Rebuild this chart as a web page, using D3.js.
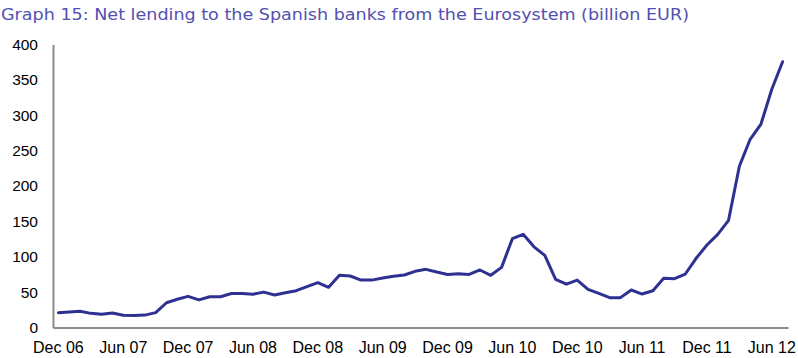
<!DOCTYPE html>
<html>
<head>
<meta charset="utf-8">
<script src="https://cdn.jsdelivr.net/npm/d3@7"></script>
<style>
  html, body { margin: 0; padding: 0; background: #fff; }
  svg { display: block; }
</style>
</head>
<body>
<svg id="chart" width="798" height="358"></svg>
<script>
const title = "Graph 15: Net lending to the Spanish banks from the Eurosystem (billion EUR)";

// Monthly observations, Dec 06 .. Jul 12
const startYear = 2006, startMonth = 11; // December 2006 (0-based month)
const values = [
  21, 22, 23, 20, 18.6, 20.5, 17.2, 17, 17.5, 21, 35, 40,
  44, 39, 43.5, 43.5, 48, 48, 47, 50, 46, 49, 52, 57.7,
  63.3, 56.8, 74, 72.8, 67, 67, 70, 72.5, 74.2, 79.4, 82.2, 78.4,
  75, 76, 75, 81.3, 73.8, 85, 125.5, 131.7, 114, 102, 68, 61.3,
  67, 54, 48.3, 42.2, 42.2, 53, 47.3, 52, 69.5, 69, 75.6, 97.8,
  116.6, 131.7, 151.5, 228, 266, 287.6, 336.7, 375.7
];
const yTicks = [0, 50, 100, 150, 200, 250, 300, 350, 400];
const xTickLabels = ["Dec 06","Jun 07","Dec 07","Jun 08","Dec 08","Jun 09",
                     "Dec 09","Jun 10","Dec 10","Jun 11","Dec 11","Jun 12"];

const monNames = ["Jan","Feb","Mar","Apr","May","Jun","Jul","Aug","Sep","Oct","Nov","Dec"];
const categories = values.map((v, i) => {
  const m = (startMonth + i) % 12;
  const yr = startYear + Math.floor((startMonth + i) / 12);
  return monNames[m] + " " + String(yr % 100).padStart(2, "0");
});

const svg = d3.select("#chart");
const pLeft = 53, pRight = 788, pTop = 44.5, pBottom = 327.5;

const x = d3.scaleBand().domain(categories).range([pLeft, pRight]).paddingInner(0).paddingOuter(0);
const y = d3.scaleLinear().domain([0, 400]).range([pBottom, pTop]);
const cx = c => x(c) + x.bandwidth() / 2;

// Title
svg.append("text")
  .attr("x", 1).attr("y", 20)
  .attr("font-family", "'DejaVu Sans', sans-serif")
  .attr("font-size", 15)
  .attr("fill", "#5250b0")
  .attr("textLength", 688)
  .attr("lengthAdjust", "spacingAndGlyphs")
  .text(title);

// Y axis
const yAxis = d3.axisLeft(y).tickValues(yTicks).tickSize(0).tickPadding(15);
const gy = svg.append("g").attr("transform", `translate(${pLeft},0)`).call(yAxis);
gy.select(".domain").attr("stroke", "#8c8c8c").attr("stroke-width", 2);
gy.selectAll("text")
  .attr("font-family", "'Liberation Sans', Arial, sans-serif")
  .attr("font-size", 15.5)
  .attr("fill", "#000");

// X axis
const xAxis = d3.axisBottom(x)
  .tickValues(xTickLabels)
  .tickSize(0).tickPadding(14);
const gx = svg.append("g").attr("transform", `translate(0,${pBottom})`).call(xAxis);
gx.select(".domain").attr("stroke", "#8c8c8c").attr("stroke-width", 2);
gx.selectAll("text")
  .attr("font-family", "'Liberation Sans', Arial, sans-serif")
  .attr("font-size", 16)
  .attr("fill", "#000");

// Line
const line = d3.line()
  .x((d, i) => cx(categories[i]))
  .y(d => y(d));
svg.append("path")
  .datum(values)
  .attr("d", line)
  .attr("fill", "none")
  .attr("stroke", "#2e3192")
  .attr("stroke-width", 3)
  .attr("stroke-linejoin", "round")
  .attr("stroke-linecap", "round");
</script>
</body>
</html>
